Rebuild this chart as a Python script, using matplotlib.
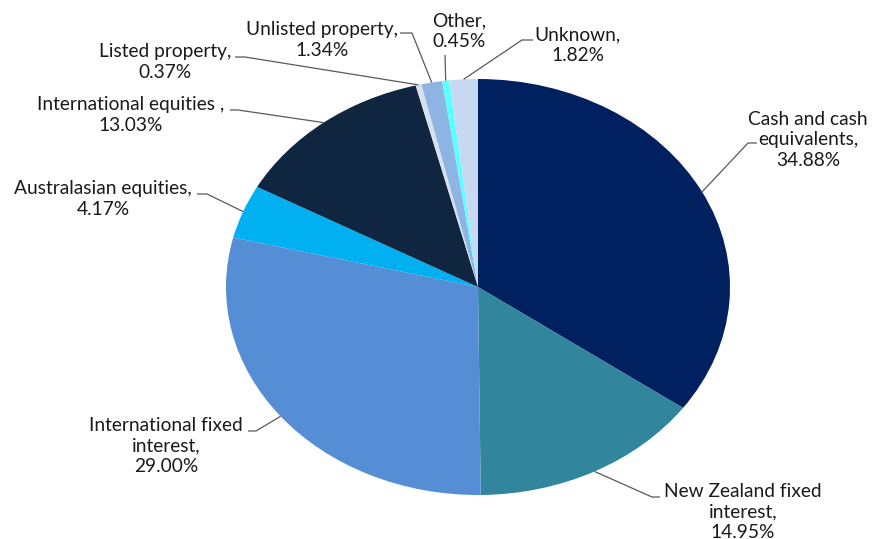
import numpy as np
import matplotlib.pyplot as plt

labels = ["Cash and cash\nequivalents,", "New Zealand fixed\ninterest,",
          "International fixed\ninterest,", "Australasian equities,",
          "International equities ,", "Listed property,",
          "Unlisted property,", "Other,", "Unknown,"]
shares = [34.88, 14.95, 29.00, 4.17, 13.03, 0.37, 1.34, 0.45, 1.82]
colors = ["#002060", "#31859C", "#558ED5", "#00B0F0", "#10253F",
          "#D6E0EE", "#8EB4E3", "#5CFFFF", "#C6D9F1"]

# label layout in pixels: text centre, elbow start, elbow end
text_pos = [(808, 140), (743, 512), (166, 446), (103, 199), (131, 115),
            (165, 62), (322, 40), (459, 31), (578, 45)]
elbows = [((757, 143), (748, 143)), ((660, 497), (652, 497)),
          ((248, 431), (256, 431)), ((197, 194), (207, 194)),
          ((230, 110), (238, 110)), ((235, 57), (245, 57)),
          ((400, 33), (412, 33)), ((445, 55), (445, 55)),
          ((533, 40), (522, 40))]

W, H = 877, 539
cx, cy, rx, ry = 478, 287, 252, 208


def px(p):
    return ((p[0] - cx) / rx, (cy - p[1]) / ry)


fig = plt.figure(figsize=(W / 100, H / 100), dpi=100)
ax = fig.add_axes([0, 0, 1, 1])
wedges, _ = ax.pie(shares, colors=colors, startangle=90, counterclock=False,
                   radius=1, center=(0, 0), frame=False,
                   wedgeprops=dict(linewidth=0))
ax.set_aspect("auto")
ax.set_xlim(-cx / rx, (W - cx) / rx)
ax.set_ylim(-(H - cy) / ry, cy / ry)
ax.axis("off")

for w, lab, val, tp, el in zip(wedges, labels, shares, text_pos, elbows):
    ang = np.deg2rad((w.theta1 + w.theta2) / 2)
    edge = (np.cos(ang), np.sin(ang))
    a = px(el[0])
    b = px(el[1])
    ax.plot([a[0], b[0], edge[0]], [a[1], b[1], edge[1]],
            color="#595959", lw=0.9, solid_capstyle="butt")
    t = px(tp)
    ax.text(t[0], t[1], f"{lab}\n{val:.2f}%", ha="center", va="center",
            fontsize=13.8, family="Lato", color="#1a1a1a", linespacing=1.22)

fig.savefig("out.png", dpi=100)
